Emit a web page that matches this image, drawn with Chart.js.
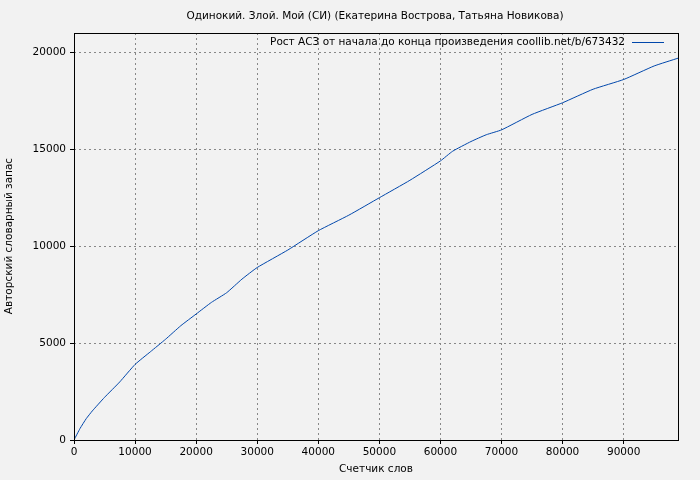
<!DOCTYPE html>
<html><head><meta charset="utf-8">
<script src="https://cdn.jsdelivr.net/npm/chart.js@4/dist/chart.umd.min.js"></script>
<style>html,body{margin:0;background:#f2f2f2}#w{width:700px;height:480px}</style>
</head><body><div id="w"><canvas id="c"></canvas></div>
<script>
const words = [0,1000,2000,3000,5000,7500,10000,12500,15000,17500,20000,22500,25000,27500,30000,35000,40000,45000,50000,55000,60000,62000,65000,67500,70000,75000,80000,85000,90000,95000,98900];
const vocab = [0,600,1100,1500,2200,3000,3900,4550,5200,5900,6500,7100,7600,8300,8900,9800,10800,11600,12500,13400,14400,14900,15400,15750,16000,16800,17400,18100,18600,19300,19700];
const xTicks = [0,10000,20000,30000,40000,50000,60000,70000,80000,90000];
const yTicks = [0,5000,10000,15000,20000];
const title = 'Одинокий. Злой. Мой (СИ) (Екатерина Вострова, Татьяна Новикова)';
const legendLabel = 'Рост АСЗ от начала до конца произведения coollib.net/b/673432';
const F = '10.5px "DejaVu Sans"';
const deco = {id:'deco',
 afterDraw(ch){const c=ch.ctx,a=ch.chartArea;c.save();
  c.strokeStyle='#000';c.lineWidth=1;c.strokeRect(a.left+0.5,a.top+0.5,a.right-a.left,a.bottom-a.top);
  c.font=F;c.fillStyle='#000';c.textAlign='center';c.textBaseline='middle';
  c.fillText(title,375,16);
  c.textAlign='right';c.fillText(legendLabel,625,42);
  c.strokeStyle='#0047ab';c.beginPath();c.moveTo(632,42.5);c.lineTo(664,42.5);c.stroke();
  c.textAlign='center';c.fillText('Счетчик слов',376,469);
  c.translate(9,236);c.rotate(-Math.PI/2);c.fillText('Авторский словарный запас',0,0);
  c.restore();}};
new Chart(document.getElementById('c'),{type:'line',
 data:{datasets:[{data:words.map((x,i)=>({x,y:vocab[i]})),borderColor:'#0047ab',borderWidth:1,pointRadius:0,tension:0.15}]},
 options:{responsive:true,maintainAspectRatio:false,animation:false,
  layout:{padding:{top:33,right:22,left:0,bottom:0}},
  plugins:{legend:{display:false},title:{display:false},tooltip:{enabled:false}},
  scales:{
   x:{type:'linear',min:0,max:98900,afterBuildTicks(s){s.ticks=xTicks.map(v=>({value:v}))},
      afterFit(s){s.height=40},
      ticks:{font:{family:'DejaVu Sans',size:10.5},color:'#000',maxRotation:0,callback:v=>v,padding:2},
      grid:{color:'#888',drawTicks:true,tickLength:4,tickColor:'#000'},border:{display:false,dash:[2,3]}},
   y:{min:0,max:21000,afterBuildTicks(s){s.ticks=yTicks.map(v=>({value:v}))},
      afterFit(s){s.width=74},
      ticks:{font:{family:'DejaVu Sans',size:10.5},color:'#000',callback:v=>v,padding:4},
      grid:{color:'#888',tickLength:4,tickColor:'#000'},border:{display:false,dash:[2,3]}}
  }},plugins:[deco]});
</script></body></html>
